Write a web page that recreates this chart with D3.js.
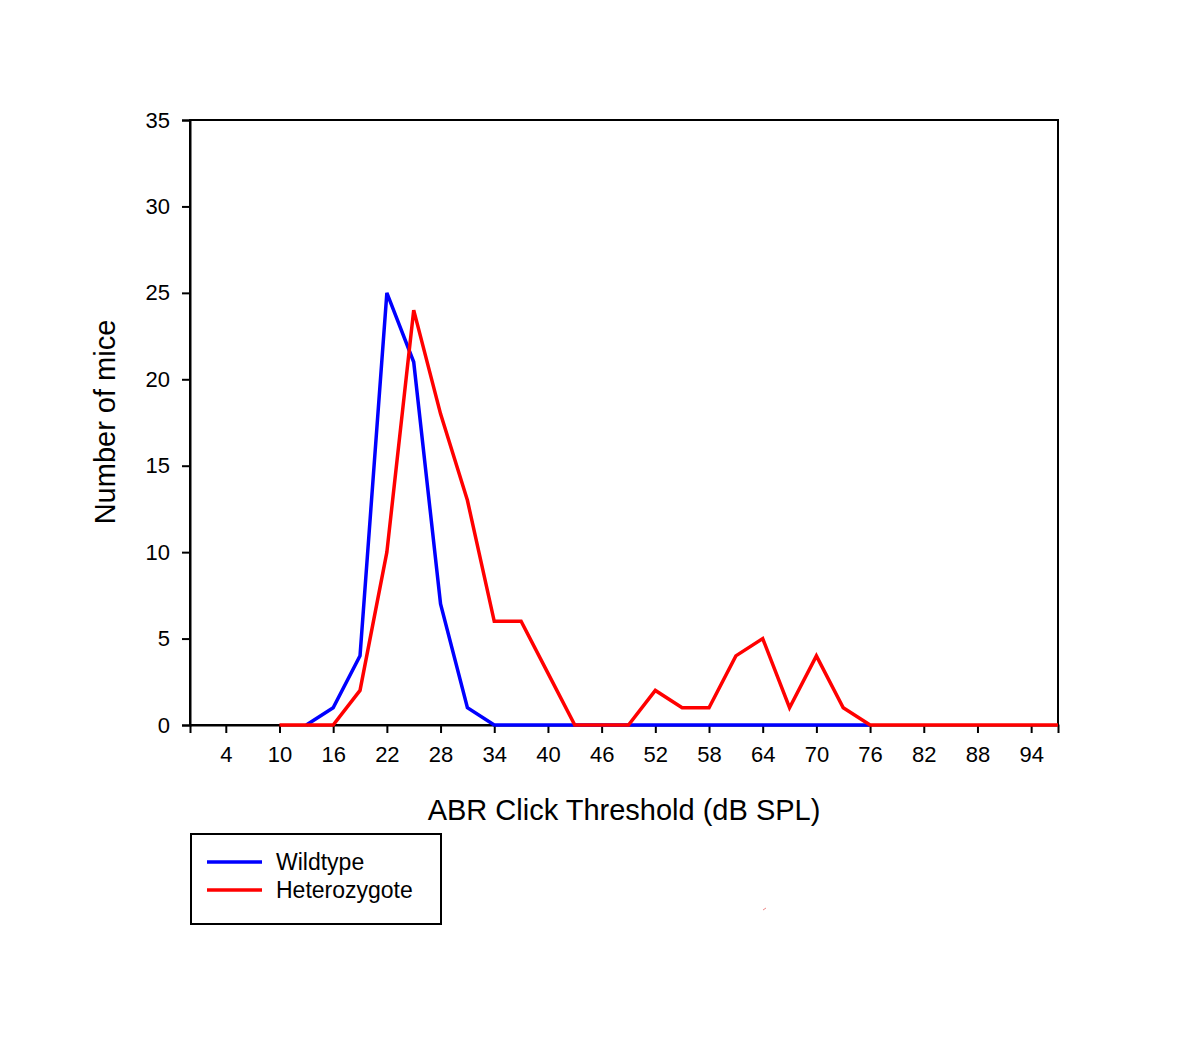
<!DOCTYPE html>
<html>
<head>
<meta charset="utf-8">
<script src="https://d3js.org/d3.v7.min.js"></script>
<style>
  body { margin: 0; background: #fff; }
  text { font-family: "Liberation Sans", Arial, sans-serif; fill: #000; }
</style>
</head>
<body>
<script>
  // x values in dB SPL
  var wildX = [13, 16, 19, 22, 25, 28, 31, 34, 37, 40, 43, 46, 49, 52, 55, 58, 61, 64, 67, 70, 73, 76];
  var wildY = [0, 1, 4, 25, 21, 7, 1, 0, 0, 0, 0, 0, 0, 0, 0, 0, 0, 0, 0, 0, 0, 0];
  var hetX = [10, 13, 16, 19, 22, 25, 28, 31, 34, 37, 40, 43, 46, 49, 52, 55, 58, 61, 64, 67, 70, 73, 76, 79, 82, 85, 88, 91, 94, 97];
  var hetY = [0, 0, 0, 2, 10, 24, 18, 13, 6, 6, 3, 0, 0, 0, 2, 1, 1, 4, 5, 1, 4, 1, 0, 0, 0, 0, 0, 0, 0, 0];
  var xTicks = [4, 10, 16, 22, 28, 34, 40, 46, 52, 58, 64, 70, 76, 82, 88, 94];
  var yTicks = [0, 5, 10, 15, 20, 25, 30, 35];

  var svg = d3.select("body").append("svg")
    .attr("width", 1200)
    .attr("height", 1037);

  var pLeft = 190, pRight = 1058, pTop = 120, pBottom = 725;

  var x = d3.scaleLinear().domain([0, 97]).range([pLeft, pRight]);
  var y = d3.scaleLinear().domain([0, 35]).range([pBottom, pTop]);

  // frame
  svg.append("rect")
    .attr("x", pLeft).attr("y", pTop)
    .attr("width", pRight - pLeft).attr("height", pBottom - pTop)
    .attr("fill", "none").attr("stroke", "#000").attr("stroke-width", 2);

  var xAxis = svg.append("g")
    .attr("transform", "translate(0," + pBottom + ")")
    .call(d3.axisBottom(x).tickValues(xTicks).tickSize(8).tickPadding(13));
  var yAxis = svg.append("g")
    .attr("transform", "translate(" + pLeft + ",0)")
    .call(d3.axisLeft(y).tickValues(yTicks).tickSize(8).tickPadding(12));

  [xAxis, yAxis].forEach(function(g) {
    g.select(".domain").attr("stroke", "#000").attr("stroke-width", 2);
    g.selectAll(".tick line").attr("stroke", "#000").attr("stroke-width", 2);
    g.selectAll(".tick text")
      .style("font-family", "'Liberation Sans', Arial, sans-serif")
      .style("font-size", "22px").attr("fill", "#000");
  });

  var line = d3.line()
    .x(function(d) { return x(d[0]); })
    .y(function(d) { return y(d[1]); });

  var wild = { name: "Wildtype", color: "#0000ff", pts: d3.zip(wildX, wildY) };
  var het = { name: "Heterozygote", color: "#ff0000", pts: d3.zip(hetX, hetY) };

  // red is drawn on top of blue
  svg.selectAll("path.series")
    .data([wild, het])
    .enter()
    .append("path")
    .attr("class", "series")
    .attr("d", function(d) { return line(d.pts); })
    .attr("fill", "none")
    .attr("stroke", function(d) { return d.color; })
    .attr("stroke-width", 3.5)
    .attr("stroke-linejoin", "miter");

  // axis titles
  svg.append("text")
    .attr("x", 624).attr("y", 820)
    .attr("text-anchor", "middle")
    .style("font-size", "29px")
    .text("ABR Click Threshold (dB SPL)");

  svg.append("text")
    .attr("transform", "translate(115,422) rotate(-90)")
    .attr("text-anchor", "middle")
    .style("font-size", "29px")
    .text("Number of mice");

  // legend
  var legend = svg.append("g");
  legend.append("rect")
    .attr("x", 191).attr("y", 834)
    .attr("width", 250).attr("height", 90)
    .attr("fill", "none").attr("stroke", "#000").attr("stroke-width", 2);

  legend.selectAll("g.item")
    .data([wild, het])
    .enter()
    .append("g")
    .attr("class", "item")
    .each(function(d, i) {
      var gy = 862 + i * 28;
      d3.select(this).append("line")
        .attr("x1", 207).attr("x2", 262)
        .attr("y1", gy).attr("y2", gy)
        .attr("stroke", d.color).attr("stroke-width", 3.5);
      d3.select(this).append("text")
        .attr("x", 276).attr("y", gy + 8)
        .style("font-size", "23px")
        .text(d.name);
    });

  // small stray mark
  svg.append("line")
    .attr("x1", 763).attr("y1", 910).attr("x2", 766).attr("y2", 908)
    .attr("stroke", "#e88").attr("stroke-width", 1);
</script>
</body>
</html>
